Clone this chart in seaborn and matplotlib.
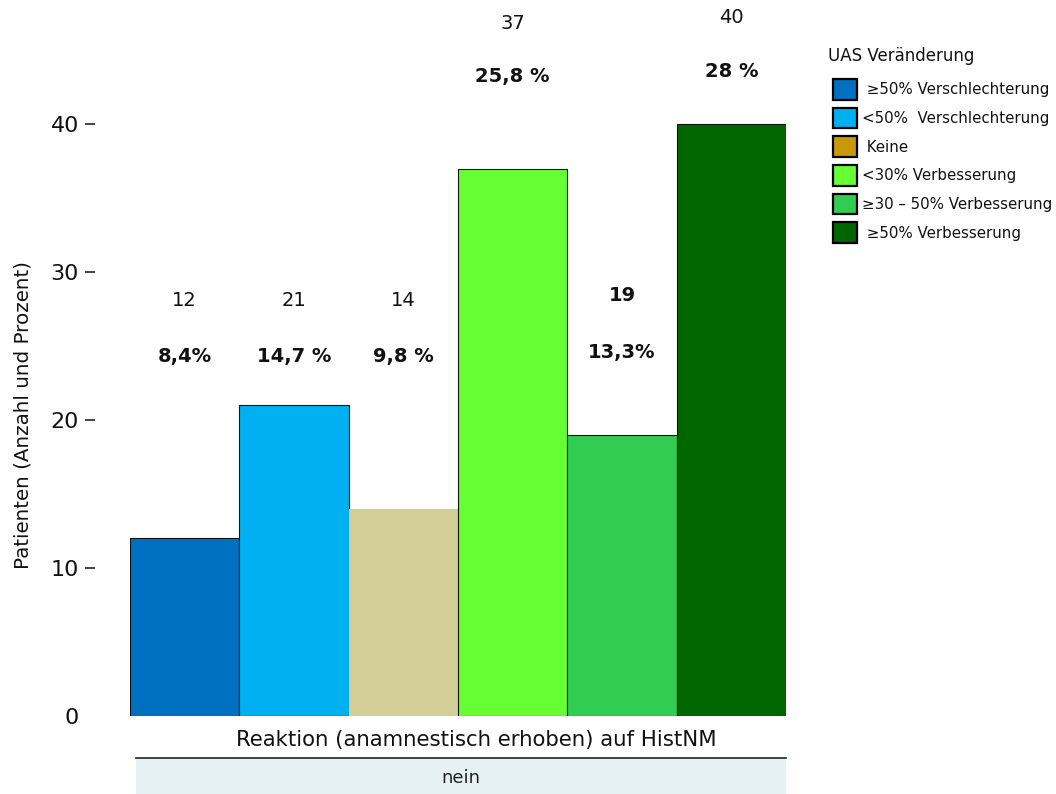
import matplotlib
matplotlib.use("Agg")
import matplotlib.pyplot as plt
from matplotlib.patches import Patch
import seaborn as sns
import pandas as pd

# Data
categories = ["≥50% Verschlechterung", "<50% Verschlechterung", "Keine",
              "<30% Verbesserung", "≥30 – 50% Verbesserung", "≥50% Verbesserung"]
legend_labels = [" ≥50% Verschlechterung", "<50%  Verschlechterung", " Keine",
                 "<30% Verbesserung", "≥30 – 50% Verbesserung", " ≥50% Verbesserung"]
counts = [12, 21, 14, 37, 19, 40]
percent_labels = ["8,4%", "14,7 %", "9,8 %", "25,8 %", "13,3%", "28 %"]
panel = "nein"

# Styling
bar_colors = ["#0070C0", "#00B0F0", "#D3CE98", "#66FF33", "#33CC52", "#006600"]
legend_colors = ["#0070C0", "#00B0F0", "#C9980A", "#66FF33", "#33CC52", "#006600"]
count_y = [28.1, 28.1, 28.1, 46.8, 28.4, 47.2]
pct_y = [24.3, 24.3, 24.3, 43.2, 24.6, 43.6]
count_bold = [False, False, False, False, True, False]

sns.set_theme(style="white")
plt.rcParams["font.family"] = ["DejaVu Sans"]
ink = "#111111"

df = pd.DataFrame({"kat": categories, "n": counts})

fig = plt.figure(figsize=(10.56, 7.94), dpi=100)
ax = fig.add_axes([130 / 1056, 1 - 716 / 794, 656 / 1056, 716 / 794])

sns.barplot(data=df, x="kat", y="n", hue="kat", palette=bar_colors,
            width=1.0, dodge=False, legend=False, ax=ax, saturation=1)

for i, p in enumerate(ax.patches):
    if i == 2:
        p.set_edgecolor("none")
    else:
        p.set_edgecolor(ink)
        p.set_linewidth(0.8)

ax.set_xlim(-0.5, 5.5)
ax.set_ylim(0, 48.4)

for i, (c, pl) in enumerate(zip(counts, percent_labels)):
    ax.text(i, count_y[i], str(c), ha="center", va="center", fontsize=14,
            fontweight="bold" if count_bold[i] else "normal", color=ink)
    ax.text(i, pct_y[i], pl, ha="center", va="center", fontsize=14,
            fontweight="bold", color=ink)

for s in ax.spines.values():
    s.set_visible(False)
ax.spines["left"].set_position(("outward", 25))

ax.set_xticks([])
ax.set_xlabel("")
ax.set_yticks([0, 10, 20, 30, 40])
ax.set_yticklabels(["0", "10", "20", "30", "40"])
ax.tick_params(axis="y", which="major", direction="out", length=7.2, width=1.1,
               color=ink, pad=4.5, left=True, labelsize=16, labelcolor=ink)
ax.yaxis.get_major_ticks()[0].tick1line.set_visible(False)
ax.set_ylabel("Patienten (Anzahl und Prozent)", fontsize=14.3, color=ink)
ax.yaxis.set_label_coords(-0.148, 0.42)

# Bottom title and panel strip
fig.text(476 / 1056, 1 - 740 / 794, "Reaktion (anamnestisch erhoben) auf HistNM",
         ha="center", va="center", fontsize=15.3, color=ink)
strip = fig.add_axes([136 / 1056, 0, 650 / 1056, 36 / 794])
strip.set_facecolor("#E6F1F3")
strip.set_xticks([])
strip.set_yticks([])
for k, s in strip.spines.items():
    s.set_visible(k == "top")
strip.spines["top"].set_color("#222222")
strip.spines["top"].set_linewidth(1.2)
strip.text(0.5, 0.45, panel, ha="center", va="center", fontsize=13,
           color="#222222", transform=strip.transAxes)

# Legend
fig.text(828 / 1056, 1 - 56 / 794, "UAS Veränderung", ha="left", va="center",
         fontsize=12, color=ink)
handles = [Patch(facecolor=c, edgecolor="black", linewidth=1.6) for c in legend_colors]
leg = fig.legend(handles, legend_labels,
                 loc="upper left", bbox_to_anchor=(833 / 1056, 1 - 79 / 794),
                 frameon=False, fontsize=10.8, borderpad=0, borderaxespad=0,
                 handlelength=1.6, handleheight=1.75, handletextpad=0.35,
                 labelspacing=0.53)
for t in leg.get_texts():
    t.set_color(ink)

fig.savefig("out.png", dpi=100)
